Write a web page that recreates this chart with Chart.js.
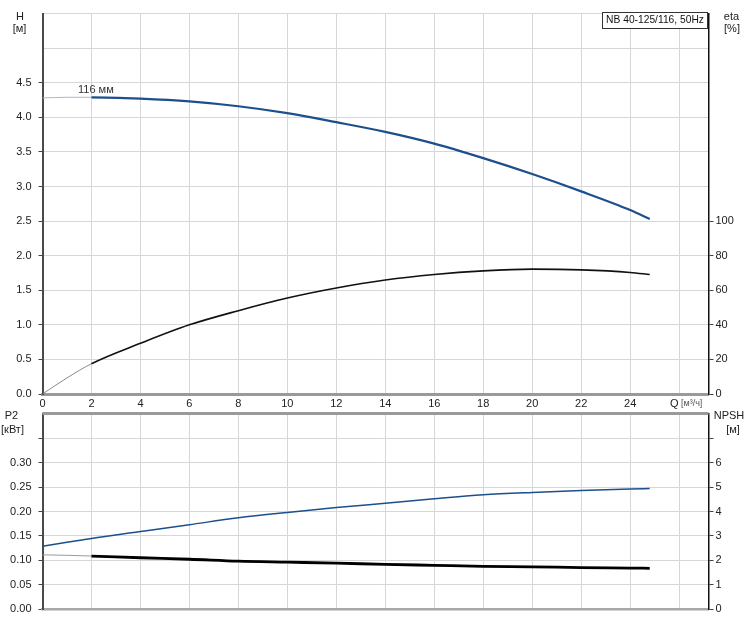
<!DOCTYPE html>
<html>
<head>
<meta charset="UTF-8">
<title>NB 40-125/116, 50Hz</title>
<script src="https://cdn.jsdelivr.net/npm/chart.js@4.4.1/dist/chart.umd.min.js"></script>
<style>
  body { margin: 0; background: #fff; }
  #wrap { position: relative; width: 751px; height: 623px; }
  #wrap canvas { position: absolute; left: 0; }
  #topChart { top: 0; }
  #botChart { top: 400px; }
</style>
</head>
<body>
<div id="wrap">
  <canvas id="topChart" width="751" height="411"></canvas>
  <canvas id="botChart" width="751" height="223"></canvas>
</div>
<script>
// flow Q [m3/h]
var flowQ   = [0, 1, 2, 4, 6, 8, 10, 12, 14, 16, 18, 20, 22, 24, 24.8];
// head H [m]
var headH   = [4.28, 4.29, 4.29, 4.27, 4.23, 4.16, 4.06, 3.93, 3.79, 3.62, 3.41, 3.18, 2.93, 2.66, 2.53];
// efficiency eta [%]
var effEta  = [0, 9.3, 17.5, 29.3, 40.0, 48.2, 55.5, 61.3, 65.9, 69.1, 71.2, 72.2, 71.8, 70.3, 69.1];
// shaft power P2 [kW]
var powerP2 = [0.129, 0.137, 0.145, 0.159, 0.173, 0.187, 0.198, 0.208, 0.217, 0.226, 0.234, 0.239, 0.243, 0.246, 0.247];
// NPSH [m]
var npshM   = [2.23, 2.21, 2.18, 2.11, 2.05, 1.97, 1.93, 1.89, 1.84, 1.80, 1.76, 1.74, 1.71, 1.69, 1.68];

// labelled ticks
var qLabels    = [0, 2, 4, 6, 8, 10, 12, 14, 16, 18, 20, 22, 24];
var hLabels    = ['0.0', '0.5', '1.0', '1.5', '2.0', '2.5', '3.0', '3.5', '4.0', '4.5'];
var etaLabels  = [0, 20, 40, 60, 80, 100];
var p2Labels   = ['0.00', '0.05', '0.10', '0.15', '0.20', '0.25', '0.30'];
var npshLabels = [0, 1, 2, 3, 4, 5, 6];

Chart.defaults.font.family = "'Liberation Sans', Arial, sans-serif";
Chart.defaults.font.size = 11;
Chart.defaults.color = '#222';

var gridCol = '#d5d7d9';
var blue = '#1c4f8c';
var noCol = 'rgba(0,0,0,0)';

function pts(ys) {
  return flowQ.map(function (q, i) { return { x: q, y: ys[i] }; });
}
function hasLabel(list, v, dec) {
  return list.indexOf(dec == null ? Math.round(v) : v.toFixed(dec)) >= 0 &&
    (dec != null || Math.abs(v - Math.round(v)) < 1e-9);
}
function lbl(list, dec) {
  return function (v) { return hasLabel(list, v, dec) ? (dec == null ? String(Math.round(v)) : v.toFixed(dec)) : ''; };
}
function tickCol(maxV) {
  return function (c) { return c.tick && c.tick.value <= maxV + 1e-9 ? '#444' : noCol; };
}
function lineSet(ys, axis, col, w, startCol, startW) {
  return {
    data: pts(ys), yAxisID: axis, borderColor: col, borderWidth: w,
    pointRadius: 0, fill: false, cubicInterpolationMode: 'monotone',
    segment: startCol ? {
      borderColor: function (c) { return c.p1.parsed.x <= 2 ? startCol : col; },
      borderWidth: function (c) { return c.p1.parsed.x <= 2 ? startW : w; }
    } : {}
  };
}

function txt(ctx, s, x, y, size, col, align) {
  ctx.font = size + "px 'Liberation Sans', Arial, sans-serif";
  ctx.fillStyle = col || '#222';
  ctx.textAlign = align || 'center';
  ctx.textBaseline = 'middle';
  ctx.fillText(s, x, y);
}

var topText = {
  id: 'topText',
  afterDraw: function (chart) {
    var ctx = chart.ctx;
    ctx.save();
    txt(ctx, 'H', 20, 16.5, 11);
    txt(ctx, '[м]', 19.5, 29, 11);
    txt(ctx, 'eta', 731.5, 17, 11);
    txt(ctx, '[%]', 732, 28.5, 11);
    txt(ctx, '116 мм', 78, 90, 11, '#333', 'left');
    // title box
    ctx.fillStyle = '#fff';
    ctx.fillRect(602.5, 12.5, 105, 16);
    ctx.strokeStyle = '#333';
    ctx.lineWidth = 1;
    ctx.strokeRect(602.5, 12.5, 105, 16);
    var title = 'NB 40-125/116, 50Hz', fs = 11;
    ctx.font = fs + "px 'Liberation Sans', Arial, sans-serif";
    while (ctx.measureText(title).width > 100 && fs > 8) {
      fs -= 0.25;
      ctx.font = fs + "px 'Liberation Sans', Arial, sans-serif";
    }
    txt(ctx, title, 655, 20.5, fs, '#111');
    // Q axis caption
    txt(ctx, 'Q', 670, 403.5, 11, '#222', 'left');
    txt(ctx, '[м³/ч]', 681, 403.5, 9, '#555', 'left');
    ctx.restore();
  }
};

var botText = {
  id: 'botText',
  afterDraw: function (chart) {
    var ctx = chart.ctx, a = chart.chartArea;
    ctx.save();
    ctx.strokeStyle = '#9a9a9a';
    ctx.lineWidth = 3;
    ctx.beginPath();
    ctx.moveTo(a.left, a.top);
    ctx.lineTo(a.right, a.top);
    ctx.stroke();
    txt(ctx, 'P2', 11.5, 16, 11);
    txt(ctx, '[кВт]', 12.5, 29.5, 11);
    txt(ctx, 'NPSH', 729, 16.3, 11);
    txt(ctx, '[м]', 733, 29.5, 11);
    ctx.restore();
  }
};

new Chart(document.getElementById('topChart'), {
  type: 'line',
  data: {
    datasets: [
      lineSet(headH, 'yH', blue, 2.2, '#a8b8cd', 1),
      lineSet(effEta, 'yEta', '#111', 1.6, '#8a8a8a', 1)
    ]
  },
  options: {
    responsive: false, animation: false, devicePixelRatio: 1,
    layout: { padding: { top: 12, left: 0, right: 0, bottom: 0 } },
    plugins: { legend: { display: false }, tooltip: { enabled: false } },
    scales: {
      x: {
        type: 'linear', min: 0, max: 27.2,
        afterFit: function (s) { s.height = 17; },
        ticks: {
          stepSize: 2, includeBounds: false, autoSkip: false, maxRotation: 0, padding: 3,
          callback: function (v) { return qLabels.indexOf(v) >= 0 ? String(v) : ''; }
        },
        grid: { color: gridCol, drawTicks: false },
        border: { color: '#9a9a9a', width: 3 }
      },
      yH: {
        position: 'left', min: 0, max: 5.5,
        afterFit: function (s) { s.width = 42.5; },
        ticks: { stepSize: 0.5, padding: 7, callback: lbl(hLabels, 1) },
        grid: { color: gridCol, tickLength: 4, tickColor: tickCol(4.5) },
        border: { color: '#4a4a4a', width: 2 }
      },
      yEta: {
        position: 'right', min: 0, max: 220,
        afterFit: function (s) { s.width = 42.5; },
        ticks: { stepSize: 20, padding: 2, callback: lbl(etaLabels) },
        grid: { drawOnChartArea: false, tickLength: 5, tickColor: tickCol(100) },
        border: { color: '#111', width: 1.5 }
      }
    }
  },
  plugins: [topText]
});

new Chart(document.getElementById('botChart'), {
  type: 'line',
  data: {
    datasets: [
      lineSet(powerP2, 'yP2', blue, 1.5),
      lineSet(npshM, 'yNpsh', '#000', 2.8, '#9a9a9a', 1)
    ]
  },
  options: {
    responsive: false, animation: false, devicePixelRatio: 1,
    layout: { padding: { top: 12, left: 0, right: 0, bottom: 0 } },
    plugins: { legend: { display: false }, tooltip: { enabled: false } },
    scales: {
      x: {
        type: 'linear', min: 0, max: 27.2,
        afterFit: function (s) { s.height = 8; },
        ticks: { stepSize: 2, includeBounds: false, display: false },
        grid: { color: gridCol, drawTicks: false },
        border: { color: '#a8a8a8', width: 2.5 }
      },
      yP2: {
        position: 'left', min: 0, max: 0.4,
        afterFit: function (s) { s.width = 42.5; },
        ticks: { stepSize: 0.05, padding: 7, callback: lbl(p2Labels, 2) },
        grid: { color: gridCol, tickLength: 4, tickColor: tickCol(0.35) },
        border: { color: '#4a4a4a', width: 2 }
      },
      yNpsh: {
        position: 'right', min: 0, max: 8,
        afterFit: function (s) { s.width = 42.5; },
        ticks: { stepSize: 1, padding: 2, callback: lbl(npshLabels) },
        grid: { drawOnChartArea: false, tickLength: 5, tickColor: tickCol(7) },
        border: { color: '#111', width: 1.5 }
      }
    }
  },
  plugins: [botText]
});
</script>
</body>
</html>
